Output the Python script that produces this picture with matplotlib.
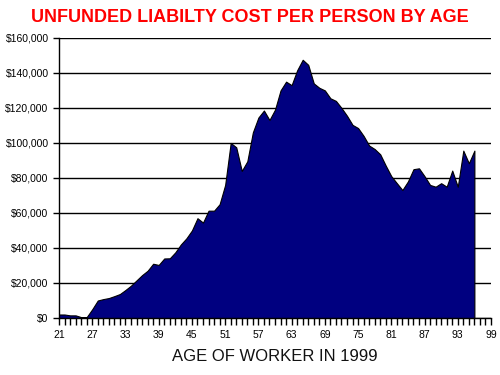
import numpy as np
from matplotlib import pyplot as plt
from matplotlib.ticker import FuncFormatter, MultipleLocator

plt.rcParams['font.family'] = ['Liberation Sans', 'DejaVu Sans']

ages = [21, 22, 23, 24, 25, 26, 27, 28, 29, 30, 31, 32, 33, 34, 35, 36, 37, 38, 39, 40,
        41, 42, 43, 44, 45, 46, 47, 48, 49, 50, 51, 52, 53, 54, 55, 56, 57, 58, 59, 60,
        61, 62, 63, 64, 65, 66, 67, 68, 69, 70, 71, 72, 73, 74, 75, 76, 77, 78, 79, 80,
        81, 82, 83, 84, 85, 86, 87, 88, 89, 90, 91, 92, 93, 94, 95, 96]
cost = [2000, 2000, 1500, 1500, 500, 500, 5000, 10000, 10800, 11400,
        12500, 13700, 16000, 18500, 21500, 24500, 27000, 31000, 30300, 34000,
        34100, 37500, 42000, 45500, 50000, 57000, 54500, 61300, 61300, 65000,
        76000, 100000, 97500, 84000, 89500, 106000, 114500, 118500, 113100, 119000,
        130000, 135000, 133000, 141500, 147500, 144600, 134000, 131500, 130000, 125500,
        124000, 120000, 115500, 110300, 108500, 104000, 98500, 96500, 93500, 87000,
        81000, 77000, 73100, 78000, 85000, 85500, 81000, 76000, 75000, 77000,
        75000, 84200, 75000, 95600, 88400, 95600]

x_ticks = list(range(21, 100, 6))
y_ticks = list(range(0, 160001, 20000))

fig = plt.figure(figsize=(5, 3.75), dpi=100)
ax = fig.add_axes([0.118, 0.152, 0.864, 0.747])

ax.fill_between(ages, cost, 0, color='#000080', edgecolor='black', linewidth=0.8)

ax.set_xlim(21, 99)
ax.set_ylim(0, 160000)
ax.set_xticks(x_ticks)
ax.xaxis.set_minor_locator(MultipleLocator(1))
ax.set_yticks(y_ticks)
ax.yaxis.set_major_formatter(FuncFormatter(lambda v, p: '${:,.0f}'.format(v)))
ax.grid(axis='y', color='black', linewidth=1)
ax.set_axisbelow(True)

for s in ['top', 'right']:
    ax.spines[s].set_visible(False)
ax.spines['left'].set_linewidth(1)
ax.spines['bottom'].set_linewidth(1)
ax.tick_params(axis='both', which='major', labelsize=7.5, length=4, width=1, direction='out', color='black')
ax.tick_params(axis='x', which='minor', length=5, width=1)
ax.tick_params(axis='x', which='major', length=5, pad=4)

ax.set_xlabel('AGE OF WORKER IN 1999', fontsize=12, labelpad=6, color='#111111')
fig.text(0.5, 0.952, 'UNFUNDED LIABILTY COST PER PERSON BY AGE', color='#ff0000',
         fontsize=13, fontweight='bold', ha='center', va='center')

fig.savefig('out.png', dpi=100)
